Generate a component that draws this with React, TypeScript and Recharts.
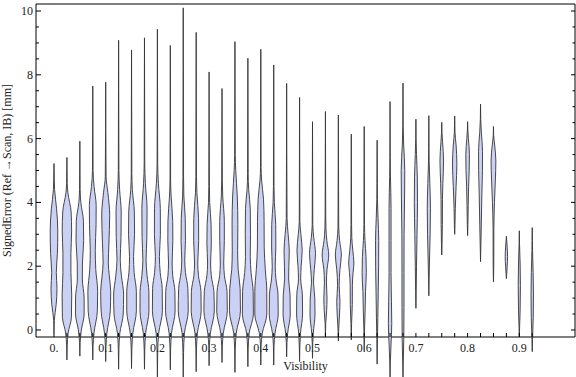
import React from 'react';
import { ComposedChart, Scatter, XAxis, YAxis, Curve } from 'recharts';

// violin centres (Visibility bins)
const VISIBILITY = [
  0, 0.025, 0.05, 0.075, 0.1, 0.125, 0.15, 0.175, 0.2, 0.225,
  0.25, 0.275, 0.3, 0.325, 0.35, 0.375, 0.4, 0.425, 0.45, 0.475,
  0.5, 0.525, 0.55, 0.575, 0.6, 0.625, 0.65, 0.675, 0.7, 0.725,
  0.75, 0.775, 0.8, 0.825, 0.85, 0.875, 0.9, 0.925,
];

// whisker ends of each violin [mm]
const ERR_MIN = [
  -0.1, -0.94, -0.82, -0.94, -0.99, -1.23, -1.21, -1.23, -1.5, -1.25,
  -1.5, -1.31, -1.12, -1.02, -1.33, -1.15, -1.1, -1.1, -0.84, -0.99,
  -0.89, -0.21, -0.34, -0.31, -0.65, -1.07, -1.5, -1.5, 0.68, 1.07,
  2.35, 3.0, 2.96, 2.14, 1.51, 1.61, -0.21, -0.68,
];
const ERR_MAX = [
  5.22, 5.41, 5.92, 7.65, 7.77, 9.08, 8.78, 9.16, 9.43, 8.92,
  10.1, 9.33, 8.09, 7.57, 9.04, 8.52, 8.8, 8.31, 7.73, 7.29,
  6.53, 6.85, 6.74, 6.14, 6.38, 5.95, 7.16, 7.74, 6.61, 6.72,
  6.51, 6.71, 6.53, 7.08, 6.38, 2.94, 3.11, 3.21,
];

// density profile of each violin: [signed error, half width]
const PROFILES: number[][][] = [
  [[0.3, 0.3], [0.8, 2.2], [1.3, 3.0], [1.8, 2.3], [2.4, 3.4], [3.1, 3.8], [3.8, 2.6], [4.4, 0.6], [4.7, 0.3]],
  [[-0.5, 0.3], [-0.1, 1.2], [0.4, 4.5], [1.1, 4.8], [1.8, 4.0], [2.4, 4.0], [3.1, 4.7], [3.7, 4.2], [4.3, 1.0], [4.6, 0.3]],
  [[-0.4, 0.3], [0.0, 1.5], [0.5, 4.3], [1.0, 4.3], [1.6, 2.5], [2.1, 2.6], [2.8, 3.8], [3.4, 3.6], [4.0, 1.0], [4.4, 0.3]],
  [[-0.5, 0.3], [-0.1, 1.2], [0.6, 4.6], [1.2, 4.9], [1.9, 3.0], [2.5, 2.5], [3.3, 3.3], [3.9, 3.4], [4.5, 1.3], [5.0, 0.3]],
  [[-0.5, 0.3], [-0.1, 1.2], [0.6, 4.6], [1.2, 5.0], [1.7, 3.6], [2.1, 2.6], [2.7, 3.2], [3.6, 4.0], [4.3, 2.2], [4.8, 0.4]],
  [[-0.6, 0.3], [-0.1, 1.2], [0.5, 4.6], [1.1, 5.0], [1.7, 2.8], [2.2, 1.6], [2.9, 2.4], [3.7, 2.6], [4.4, 1.0], [5.0, 0.3]],
  [[-0.6, 0.3], [-0.1, 1.3], [0.6, 4.8], [1.2, 4.8], [1.8, 2.6], [2.3, 2.0], [3.0, 3.0], [3.7, 2.8], [4.4, 0.8], [4.9, 0.3]],
  [[-0.6, 0.3], [-0.1, 1.2], [0.6, 4.5], [1.2, 4.4], [1.7, 2.6], [2.2, 1.6], [2.9, 2.4], [3.8, 2.6], [4.6, 0.9], [5.2, 0.3]],
  [[-0.7, 0.3], [-0.1, 1.3], [0.6, 5.0], [1.3, 4.8], [1.8, 2.8], [2.3, 2.0], [3.0, 3.0], [3.8, 2.9], [4.6, 1.0], [5.2, 0.3]],
  [[-0.6, 0.3], [-0.1, 1.2], [0.6, 4.8], [1.2, 4.6], [1.7, 2.4], [2.1, 1.8], [2.8, 2.5], [3.4, 2.4], [4.2, 0.8], [4.7, 0.3]],
  [[-0.7, 0.3], [-0.1, 1.2], [0.6, 5.0], [1.3, 4.6], [1.8, 2.2], [2.2, 1.5], [2.8, 2.2], [3.5, 2.0], [4.2, 0.6], [4.8, 0.3]],
  [[-0.6, 0.3], [-0.1, 1.2], [0.6, 5.0], [1.2, 4.8], [1.7, 2.3], [2.1, 1.6], [2.8, 2.5], [3.5, 2.4], [4.3, 0.7], [4.8, 0.3]],
  [[-0.5, 0.3], [-0.1, 1.3], [0.6, 5.2], [1.2, 4.8], [1.7, 2.2], [2.1, 1.5], [2.7, 2.2], [3.3, 2.0], [4.0, 0.6], [4.5, 0.3]],
  [[-0.5, 0.3], [-0.1, 1.3], [0.6, 5.3], [1.2, 5.0], [1.7, 2.4], [2.1, 1.7], [2.8, 2.3], [3.4, 2.3], [4.2, 0.7], [4.7, 0.3]],
  [[-0.6, 0.3], [-0.1, 1.3], [0.6, 5.5], [1.3, 5.2], [1.9, 3.2], [2.5, 2.7], [3.3, 2.9], [4.2, 2.3], [5.0, 0.8], [5.5, 0.3]],
  [[-0.6, 0.3], [-0.1, 1.3], [0.5, 5.5], [1.2, 5.3], [1.8, 3.2], [2.3, 2.4], [3.0, 2.6], [3.8, 2.4], [4.4, 0.8], [4.9, 0.3]],
  [[-0.5, 0.3], [-0.1, 1.5], [0.5, 6.0], [1.2, 6.0], [1.9, 4.5], [2.6, 3.4], [3.4, 3.3], [4.1, 2.7], [4.7, 0.8], [5.1, 0.3]],
  [[-0.5, 0.3], [-0.1, 1.3], [0.5, 4.5], [1.1, 4.3], [1.6, 2.2], [2.0, 1.5], [2.6, 2.1], [3.3, 2.0], [4.0, 0.6], [4.5, 0.3]],
  [[-0.4, 0.3], [-0.1, 1.0], [0.5, 3.6], [1.1, 3.4], [1.6, 2.0], [2.0, 2.2], [2.5, 2.6], [3.0, 1.5], [3.5, 0.4]],
  [[-0.5, 0.3], [-0.1, 0.9], [0.5, 3.0], [1.1, 2.8], [1.6, 1.1], [2.0, 1.6], [2.5, 2.6], [3.0, 1.3], [3.4, 0.3]],
  [[-0.4, 0.3], [-0.1, 0.8], [0.5, 2.5], [1.0, 2.3], [1.5, 1.0], [1.9, 1.8], [2.4, 3.0], [2.9, 1.2], [3.3, 0.3]],
  [[0.2, 0.3], [0.6, 1.2], [1.0, 1.6], [1.5, 1.0], [1.9, 1.6], [2.35, 3.3], [2.8, 1.4], [3.2, 0.5], [3.6, 0.3]],
  [[0.0, 0.3], [0.5, 1.2], [0.9, 1.6], [1.4, 0.8], [1.9, 1.6], [2.35, 3.0], [2.8, 1.3], [3.2, 0.4], [3.6, 0.3]],
  [[0.2, 0.3], [0.8, 1.0], [1.4, 1.1], [1.8, 1.8], [2.1, 2.6], [2.5, 1.5], [2.9, 0.5], [3.3, 0.3]],
  [[0.0, 0.3], [0.6, 0.9], [1.2, 1.3], [1.8, 2.1], [2.3, 1.8], [2.8, 0.8], [3.3, 0.3]],
  [[-0.3, 0.3], [0.4, 0.7], [1.2, 1.1], [2.0, 1.5], [2.8, 1.6], [3.5, 0.9], [4.1, 0.3], [4.6, 0.2]],
  [[-1.0, 0.3], [-0.5, 0.9], [0.2, 1.7], [0.9, 1.4], [1.8, 1.0], [2.8, 1.0], [3.8, 1.0], [4.8, 0.4], [5.4, 0.2]],
  [[-1.0, 0.3], [-0.3, 0.8], [0.7, 1.0], [1.8, 1.0], [3.0, 1.1], [4.2, 1.6], [5.0, 1.8], [5.8, 0.7], [6.4, 0.2]],
  [[1.2, 0.3], [2.0, 0.6], [3.0, 1.1], [4.0, 1.6], [4.8, 1.4], [5.5, 0.6], [6.0, 0.2]],
  [[1.6, 0.3], [2.1, 0.6], [3.0, 1.3], [3.8, 1.6], [4.6, 1.0], [5.3, 0.3], [5.7, 0.2]],
  [[2.7, 0.3], [3.3, 0.6], [4.1, 0.7], [4.6, 1.1], [5.3, 1.8], [5.9, 0.8], [6.2, 0.2]],
  [[3.3, 0.3], [3.8, 0.6], [4.5, 1.4], [5.2, 2.2], [5.8, 1.4], [6.2, 0.3], [6.4, 0.2]],
  [[3.3, 0.3], [3.9, 0.6], [4.5, 1.0], [5.0, 1.6], [5.5, 1.8], [6.0, 0.8], [6.3, 0.2]],
  [[2.6, 0.3], [3.2, 0.7], [4.2, 1.3], [5.0, 1.9], [5.6, 2.0], [6.2, 0.8], [6.6, 0.2]],
  [[2.0, 0.3], [3.2, 0.4], [4.0, 1.0], [4.7, 1.9], [5.3, 2.4], [5.8, 1.2], [6.1, 0.2]],
  [[1.75, 0.3], [2.0, 0.8], [2.3, 1.2], [2.6, 0.8], [2.85, 0.2]],
  [[0.1, 0.3], [0.6, 0.8], [1.4, 1.1], [2.1, 0.8], [2.7, 0.2]],
  [[-0.3, 0.3], [0.4, 1.0], [1.1, 1.2], [1.8, 0.9], [2.5, 0.3], [2.8, 0.2]],
];

const Y_TICKS = [
  0, 0.5, 1, 1.5, 2, 2.5, 3, 3.5, 4, 4.5, 5,
  5.5, 6, 6.5, 7, 7.5, 8, 8.5, 9, 9.5, 10,
];

const X_DOMAIN = [-0.0348, 1.0077];
const Y_DOMAIN = [-0.22, 10.22];
const WIDTH_SCALE = 1 / 517; // density half width -> Visibility units

const FILL = '#cbd1f4';
const EDGE = '#363636';
const FONT = '"Liberation Serif", "DejaVu Serif", serif';
const TEXT = '#222';

// outline of each violin: right side (min -> max) then the mirrored left side
const violins = VISIBILITY.map((x, i) => {
  const side = [[ERR_MIN[i], 0], ...PROFILES[i], [ERR_MAX[i], 0]];
  return [
    ...side.map(([v, w]) => ({ x: x + w * WIDTH_SCALE, y: v })),
    ...side.map(([v, w]) => ({ x: x - w * WIDTH_SCALE, y: v })),
  ];
});

const ViolinOutline = (props: any) => {
  const pts = props.points || [];
  const n = pts.length / 2;
  const right = pts.slice(0, n);
  const left = pts.slice(n);
  return (
    <g>
      <Curve type="monotoneY" layout="vertical" points={right} baseLine={left} fill={FILL} stroke="none" />
      <Curve type="monotoneY" points={right} fill="none" stroke={EDGE} strokeOpacity={0.9} strokeWidth={1} />
      <Curve type="monotoneY" points={left} fill="none" stroke={EDGE} strokeOpacity={0.9} strokeWidth={1} />
    </g>
  );
};

const NoDot = () => <g />;

const LeftTick = ({ x, y, payload }: any) => {
  const v = payload.value;
  const major = v % 2 === 0;
  return (
    <g>
      <line x1={x} x2={x + (major ? 5 : 3)} y1={y} y2={y} stroke="#000" />
      {major && (
        <text x={x - 3} y={y + 4} textAnchor="end" fontSize={12} fontFamily={FONT} fill={TEXT}>
          {v}
        </text>
      )}
    </g>
  );
};

const RightTick = ({ x, y, payload }: any) => {
  const major = payload.value % 2 === 0;
  return <line x1={x} x2={x - (major ? 4 : 2.5)} y1={y} y2={y} stroke="#000" />;
};

const BottomTick = ({ x, y, payload }: any) => {
  const v = payload.value;
  const labelled = Math.round(v * 40) % 4 === 0;
  return (
    <g>
      <line x1={x} x2={x} y1={y} y2={y - 4} stroke="#000" />
      {labelled && (
        <text x={x} y={y + 15} textAnchor="middle" fontSize={12} fontFamily={FONT} fill={TEXT}>
          {v === 0 ? '0.' : v.toFixed(1)}
        </text>
      )}
    </g>
  );
};

const TopTick = ({ x, y }: any) => <line x1={x} x2={x} y1={y} y2={y + 4} stroke="#000" />;

export default function App() {
  return (
    <div style={{ position: 'absolute', left: 0, top: 0, width: 576, height: 377, background: '#fff' }}>
      <style>{'.recharts-scatter, .recharts-scatter * { clip-path: none !important; }'}</style>
      <ComposedChart width={576} height={377} margin={{ top: 3, right: 0, bottom: 0, left: 0 }}>
        <XAxis
          xAxisId="bottom"
          type="number"
          dataKey="x"
          domain={X_DOMAIN}
          allowDataOverflow
          ticks={VISIBILITY}
          interval={0}
          height={40}
          tickSize={0}
          tickMargin={0}
          tick={BottomTick}
          axisLine={{ stroke: '#000' }}
          label={{ value: 'Visibility', position: 'insideBottom', offset: 7, fontSize: 12, fontFamily: FONT, fill: TEXT }}
        />
        <XAxis
          xAxisId="top"
          orientation="top"
          type="number"
          domain={X_DOMAIN}
          allowDataOverflow
          ticks={VISIBILITY}
          interval={0}
          height={1}
          tickSize={0}
          tickMargin={0}
          tick={TopTick}
          axisLine={{ stroke: '#000' }}
        />
        <YAxis
          yAxisId="left"
          type="number"
          dataKey="y"
          domain={Y_DOMAIN}
          allowDataOverflow
          ticks={Y_TICKS}
          interval={0}
          width={36}
          tickSize={0}
          tickMargin={0}
          tick={LeftTick}
          axisLine={{ stroke: '#000' }}
          label={{
            value: 'SignedError (Ref \u2192Scan, IB) [mm]',
            angle: -90,
            position: 'insideLeft',
            offset: 7,
            fontSize: 12,
            fontFamily: FONT,
            fill: TEXT,
            style: { textAnchor: 'middle' },
          }}
        />
        <YAxis
          yAxisId="right"
          orientation="right"
          type="number"
          domain={Y_DOMAIN}
          allowDataOverflow
          ticks={Y_TICKS}
          interval={0}
          width={1}
          tickSize={0}
          tickMargin={0}
          tick={RightTick}
          axisLine={{ stroke: '#000' }}
        />
        {violins.map((pts, i) => (
          <Scatter
            key={`violin-${i}`}
            xAxisId="bottom"
            yAxisId="left"
            data={pts}
            shape={NoDot}
            line={ViolinOutline}
            isAnimationActive={false}
          />
        ))}
      </ComposedChart>
    </div>
  );
}
